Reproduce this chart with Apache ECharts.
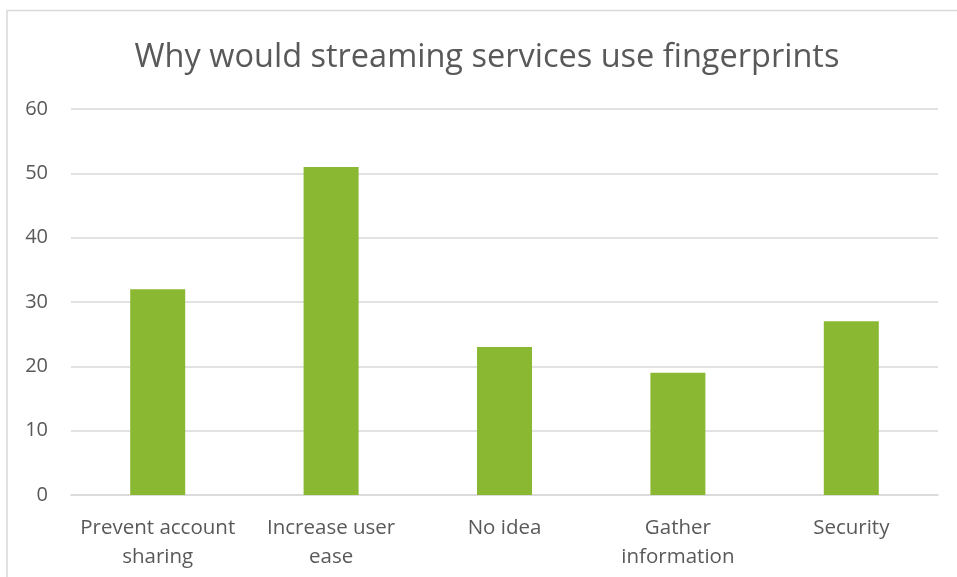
<!DOCTYPE html>
<html>
<head>
<meta charset="utf-8">
<script src="https://cdn.jsdelivr.net/npm/echarts@6/dist/echarts.min.js"></script>
<style>
  html, body { margin: 0; padding: 0; background: #fff; }
  #chart-container { width: 957px; height: 577px; }
</style>
</head>
<body>
<div id="chart-container"></div>
<script>
'use strict';

const titleText = 'Why would streaming services use fingerprints';
const categories = ['Prevent account\nsharing', 'Increase user\nease', 'No idea', 'Gather\ninformation', 'Security'];
const counts = [32, 51, 23, 19, 27];
const yTicks = [0, 10, 20, 30, 40, 50, 60];

const textColor = '#595959';
const gridColor = '#d9d9d9';
const fontFamily = '"Open Sans", "Liberation Sans", sans-serif';

const myChart = echarts.init(document.getElementById('chart-container'), null, { renderer: 'canvas' });

const option = {
    backgroundColor: '#fff',
    animation: false,
    graphic: [{
        type: 'rect',
        shape: { x: 7, y: 10.5, width: 1000, height: 600 },
        style: { fill: 'none', stroke: '#d9d9d9', lineWidth: 1.5 },
        silent: true
    }],
    title: {
        text: titleText,
        left: 482,
        textAlign: 'center',
        top: 36,
        textStyle: {
            color: textColor,
            fontSize: 32.5,
            fontWeight: 'normal',
            fontFamily: fontFamily
        }
    },
    grid: {
        left: 71,
        right: 19,
        top: 109,
        bottom: 82
    },
    xAxis: {
        type: 'category',
        data: categories,
        axisLine: { lineStyle: { color: gridColor, width: 1.5 } },
        axisTick: { show: false },
        axisLabel: {
            color: textColor,
            fontSize: 20.5,
            fontFamily: fontFamily,
            lineHeight: 29,
            margin: 19,
            interval: 0
        }
    },
    yAxis: {
        type: 'value',
        min: yTicks[0],
        max: yTicks[yTicks.length - 1],
        interval: 10,
        axisLine: { show: false },
        axisTick: { show: false },
        splitLine: { lineStyle: { color: gridColor, width: 1.5 } },
        axisLabel: {
            color: textColor,
            fontSize: 20,
            fontFamily: fontFamily,
            margin: 23
        }
    },
    series: [{
        type: 'bar',
        data: counts,
        barWidth: 55,
        itemStyle: { color: '#8ab833' }
    }]
};

myChart.setOption(option);
window.addEventListener('resize', myChart.resize);
</script>
</body>
</html>
